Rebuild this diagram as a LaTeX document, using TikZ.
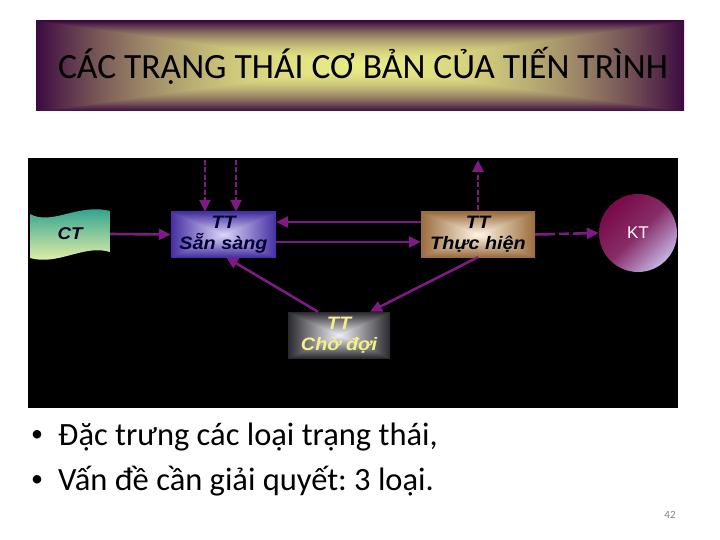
\documentclass[tikz,border=0pt]{standalone}
\usepackage{fontspec}
\setmainfont{Carlito}
\newfontfamily\arialf{Liberation Sans}
\newfontfamily\arialw{Liberation Sans}[FakeStretch=1.1]
\usetikzlibrary{arrows.meta}
\frenchspacing
\definecolor{arrowc}{HTML}{7E1A84}
\definecolor{titin}{HTML}{E8EA86}
\definecolor{titout}{HTML}{3C0A40}
\definecolor{ssin}{HTML}{DCD6F8}
\definecolor{ssout}{HTML}{4630A2}
\definecolor{thin}{HTML}{FFF6E6}
\definecolor{thout}{HTML}{9A6C3E}
\definecolor{cdin}{HTML}{F2F2F6}
\definecolor{cdout}{HTML}{2A2A2E}
\definecolor{cttop}{HTML}{1E9C8C}
\definecolor{ctbot}{HTML}{F6F6AA}
\definecolor{ktdark}{HTML}{780A48}
\definecolor{ktlight}{HTML}{C4B4E4}
\newcommand\mkglow[4]{%
\pgfdeclarefunctionalshading{#1}{\pgfpoint{-50bp}{-50bp}}{\pgfpoint{50bp}{50bp}}%
{\pgfshadecolortorgb{#2}{\glin}\pgfshadecolortorgb{#3}{\glout}}%
{abs exch abs 2 copy lt {exch} if pop 25 div dup 1 gt {pop 1} if #4
 dup \gloutred\space\glinred\space sub mul \glinred\space add exch
 dup \gloutgreen\space\glingreen\space sub mul \glingreen\space add exch
 \gloutblue\space\glinblue\space sub mul \glinblue\space add}}
\mkglow{titleglow}{titin}{titout}{dup mul}
\mkglow{ssglow}{ssin}{ssout}{}
\mkglow{thglow}{thin}{thout}{}
\mkglow{cdglow}{cdin}{cdout}{}
\tikzset{
  arr/.style={draw=arrowc, line width=2.6pt, -{Triangle[length=12pt,width=11pt]}},
  dasharr/.style={arr, dash pattern=on 5pt off 2.5pt},
  longdash/.style={arr, dash pattern=on 20pt off 4pt on 10pt off 4pt},
  statebox/.style={shade, minimum width=#1, minimum height=45pt, inner sep=0pt,
    align=center, font=\arialw\bfseries\itshape\fontsize{18}{21}\selectfont},
}
\begin{document}
\begin{tikzpicture}[x=1pt,y=-1pt]
\useasboundingbox (0,0) rectangle (720,540);
% title
\shade[shading=titleglow] (36,21) rectangle (684,111);
\node[anchor=base, font=\fontsize{35.5}{40}\selectfont, inner sep=0pt] (title) at (363,79) {CÁC TRẠNG THÁI CƠ BẢN CỦA TIẾN TRÌNH};
% black panel
\fill[black] (28,158) rectangle (678,408);
% CT flag
\shade[top color=cttop, bottom color=ctbot]
  (30,214) .. controls (52,226) and (78,203) .. (110,211)
  -- (110,252) .. controls (84,244) and (58,266) .. (30,258) -- cycle;
\node[font=\arialw\bfseries\itshape\fontsize{17}{20}\selectfont, text=black!85!blue] (ct) at (70,234) {CT};
\coordinate (ctr) at (110,234);
% states
\node[statebox=105pt, shading=ssglow, text=black!80!blue] (ss) at (223.5,234.5) {TT\\Sẵn sàng};
\node[statebox=114pt, shading=thglow, text=black] (th) at (478,234.5) {TT\\Thực hiện};
\node[statebox=102pt, minimum height=46pt, shading=cdglow, text={rgb,255:red,244;green,240;blue,138}] (cd) at (339,335) {TT\\Chờ đợi};
\shade[top color=ktdark, bottom color=ktlight, middle color=ktdark!80!ktlight, shading angle=45] (638,233) circle (39);
\node[font=\arialf\fontsize{17}{20}\selectfont, text=white] (kt) at (638,233) [minimum size=78pt, circle] {KT};
% external ends
\coordinate (in1) at (205,160);
\coordinate (in2) at (236,160);
\coordinate (out1) at (478,160);
% connectors
\draw[arr] (ctr) -- (ss.west);
\draw[arr] ([yshift=12.5pt]th.west) -- ([yshift=12.5pt]ss.east);
\draw[arr] ([yshift=-7.5pt]ss.east) -- ([yshift=-7.5pt]th.west);
\draw[arr] (th.south) -- ([xshift=31pt]cd.north);
\draw[arr] ([xshift=-21pt]cd.north) -- ([xshift=2.5pt]ss.south);
\draw[dasharr] (in1) -- (in1 |- ss.north);
\draw[dasharr] (in2) -- (in2 |- ss.north);
\draw[dasharr] ([yshift=2pt]th.north) -- (out1);
\draw[longdash] (th.east) -- (kt.west);
% bullets
\node[font=\fontsize{24}{30}\selectfont, inner sep=0pt] (b1) at (37,436) {•};
\node[font=\fontsize{24}{30}\selectfont, inner sep=0pt] (b2) at (37,481) {•};
\node[anchor=base west, font=\fontsize{32.5}{38}\selectfont, inner sep=0pt] (t1) at (58,445) {Đặc trưng các loại trạng thái,};
\node[anchor=base west, font=\fontsize{32.5}{38}\selectfont, inner sep=0pt] (t2) at (58,490) {Vấn đề cần giải quyết: 3 loại.};
\node[font=\fontsize{11}{13}\selectfont, text=black!50] (pg) at (670,515) {42};
\end{tikzpicture}
\end{document}
